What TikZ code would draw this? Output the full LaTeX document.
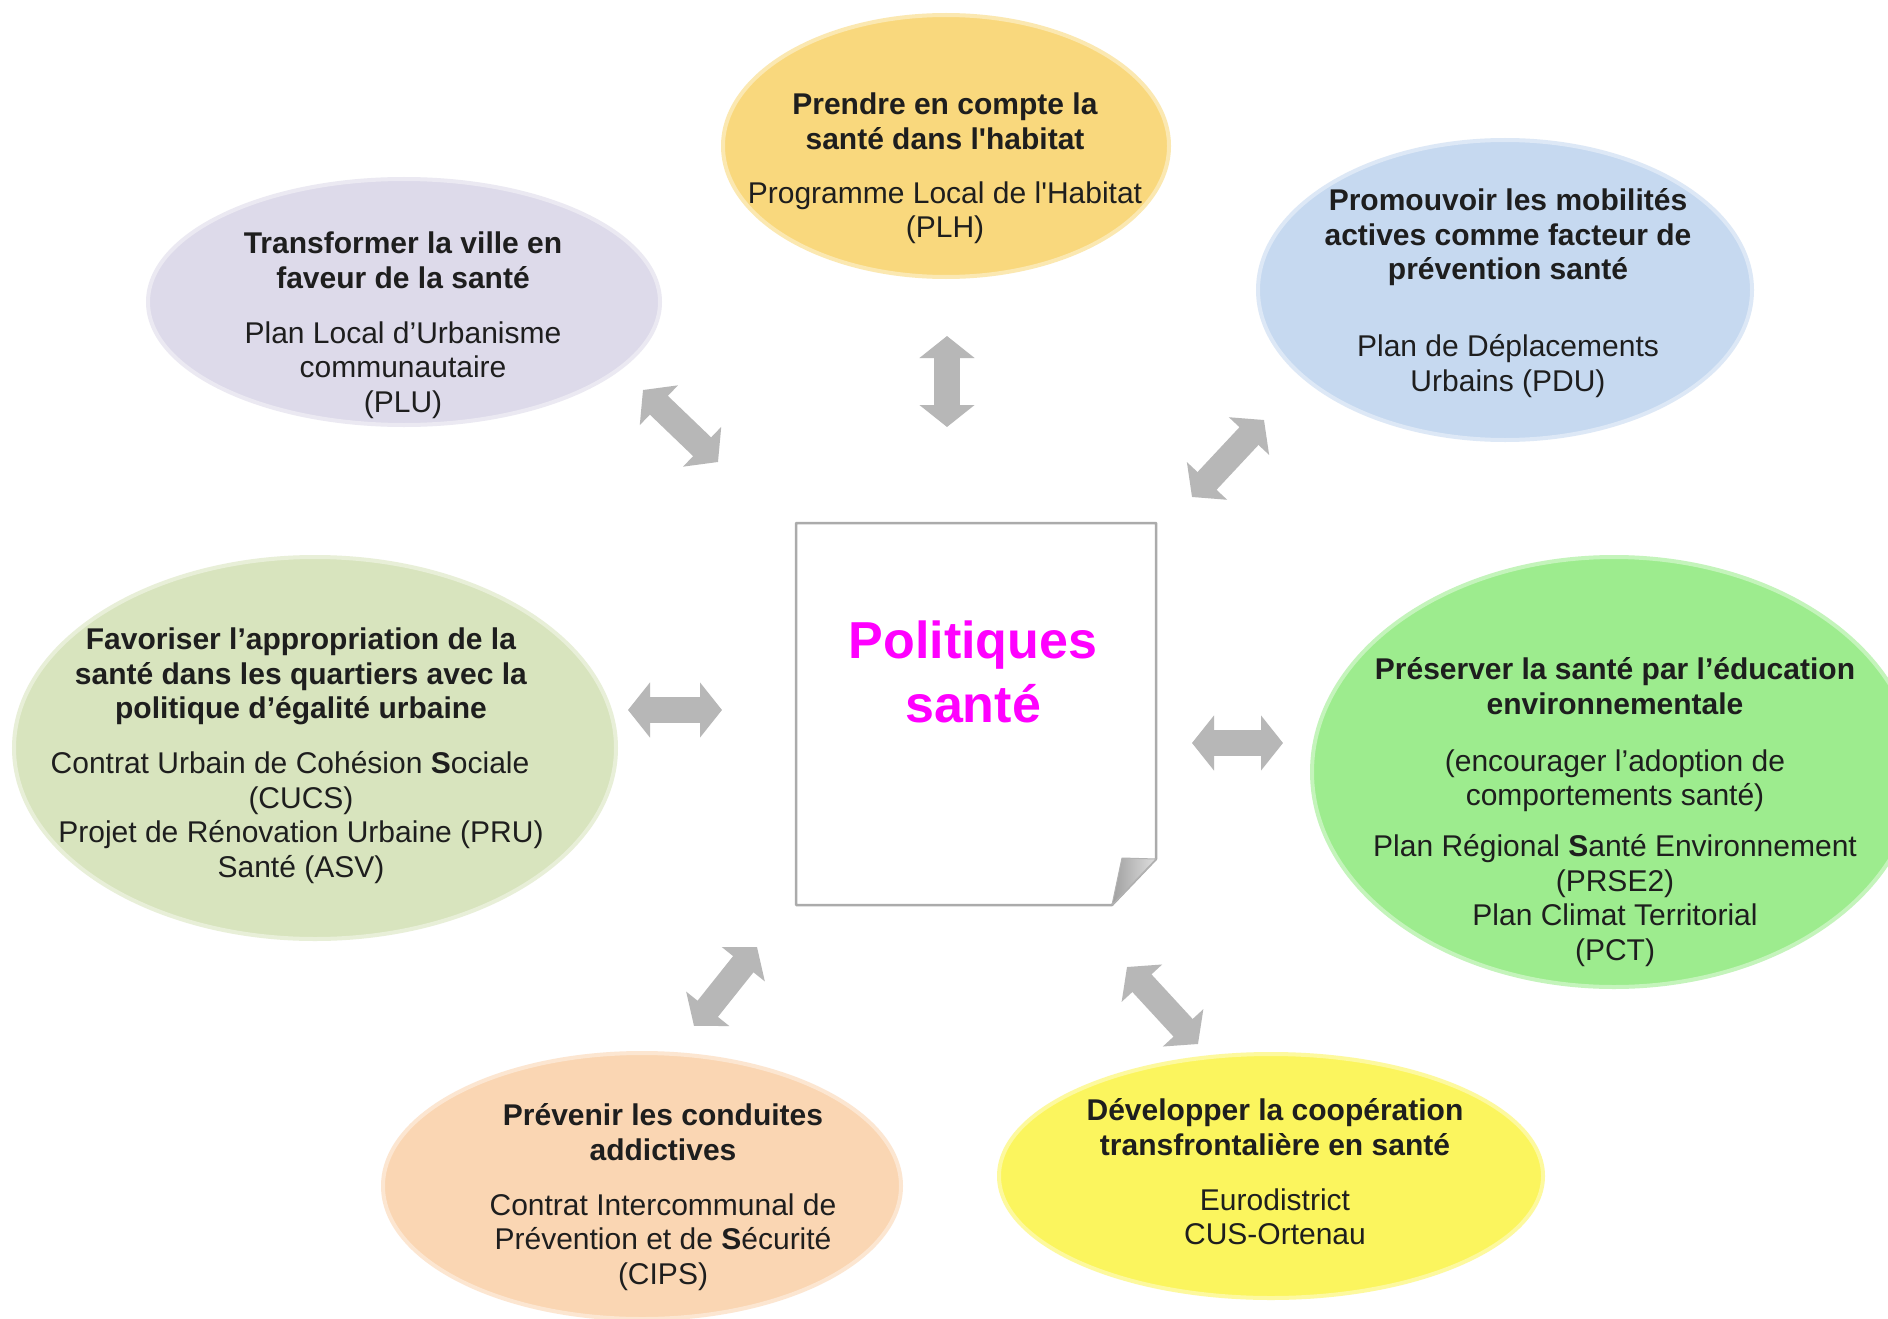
\documentclass[tikz,border=0pt]{standalone}
\usepackage{fontspec}
\setmainfont{Liberation Sans}
\usetikzlibrary{shapes.geometric,arrows.meta}
\definecolor{cGold}{HTML}{F9D87D}
\definecolor{cLav}{HTML}{DDDAEA}
\definecolor{cBlue}{HTML}{C6D9F0}
\definecolor{cOlive}{HTML}{D8E4BE}
\definecolor{cGreen}{HTML}{9DEC8E}
\definecolor{cPeach}{HTML}{FAD6B3}
\definecolor{cYel}{HTML}{FBF55E}
\definecolor{cTxt}{HTML}{1E1E1E}
\definecolor{cMag}{HTML}{FF00FF}
\definecolor{cArr}{HTML}{B7B7B7}
\definecolor{cPage}{HTML}{ABABAB}
\newcommand\mystrut{\rule[-8.6pt]{0pt}{38.6pt}}
\newcommand\mybigstrut{\rule[-12.8pt]{0pt}{62.8pt}}
\newcommand\tightlines{\lineskiplimit=-100pt\relax}
\newcommand\txtfont{\fontsize{30}{34.5}\selectfont\tightlines}
\newcommand\bigfont{\fontsize{52}{64}\selectfont\bfseries\tightlines}
\begin{document}
\begin{tikzpicture}[x=1pt,y=-1pt,
  blob/.style={ellipse, inner sep=0pt, fill=#1, draw=#1!60!white, line width=4pt},
  txt/.style={align=center, inner sep=0pt, text=cTxt, font=\txtfont},
  arr/.style={draw=cArr, line width=26pt,
    arrows={Triangle[width=54pt,length=22pt]-Triangle[width=54pt,length=22pt]}}]
\useasboundingbox (0,0) rectangle (1888,1319);
\clip (0,0) rectangle (1888,1319);
\fill[white] (0,0) rectangle (1888,1319);

% ellipses
\node[blob=cLav, minimum width=512pt, minimum height=246pt] (eTL) at (404,302) {};
\node[blob=cGold, minimum width=446pt, minimum height=262pt] (eT) at (946,146) {};
\node[blob=cBlue, minimum width=494pt, minimum height=300pt] (eTR) at (1505,290) {};
\node[blob=cOlive, minimum width=602pt, minimum height=382pt] (eL) at (315,748) {};
\node[blob=cGreen, minimum width=604pt, minimum height=430pt] (eR) at (1614,772) {};
\node[blob=cPeach, minimum width=518pt, minimum height=266pt] (eBL) at (642,1186) {};
\node[blob=cYel, minimum width=544pt, minimum height=244pt] (eBR) at (1271,1176) {};

% arrow end points
\coordinate (a1s) at (643,390);  \coordinate (a1e) at (718,462);
\coordinate (a2s) at (947,336);  \coordinate (a2e) at (947,427);
\coordinate (a3s) at (1264,420); \coordinate (a3e) at (1192,497);
\coordinate (a4s) at (628,710);  \coordinate (a4e) at (722,710);
\coordinate (a5s) at (1192,743); \coordinate (a5e) at (1283,743);
\coordinate (a6s) at (757,947);  \coordinate (a6e) at (694,1026);
\coordinate (a7s) at (1127,967); \coordinate (a7e) at (1198,1044);
\foreach \i in {1,...,7} {\draw[arr] (a\i s) -- (a\i e);}

% central page with curled corner
\path[draw=cPage, line width=2.5pt, fill=white, line join=round]
  (796,523) -- (1156,523) -- (1156,859) -- (1112,905) -- (796,905) -- cycle;
\shade[left color=gray!75, right color=gray!25, draw=gray!60, line width=1pt, line join=round]
  (1122,858) -- (1156,859) -- (1112,905) -- cycle;
\node[align=center, inner sep=0pt, text=cMag, font=\bigfont] (tC) at (973,672)
  {\mybigstrut Politiques\\ santé\mybigstrut};

% texts
\node[txt] (tT) at (945,165.5)
  {\mystrut\textbf{Prendre en compte la}\\ \textbf{santé dans l\textquotesingle habitat}\\[19.5pt]
   Programme Local de l\textquotesingle Habitat\\ (PLH)\mystrut};
\node[txt] (tTL) at (403,322.5)
  {\mystrut\textbf{Transformer la ville en}\\ \textbf{faveur de la santé}\\[20.5pt]
   Plan Local d’Urbanisme\\ communautaire\\ (PLU)\mystrut};
\node[txt] (tTR) at (1508,290.5)
  {\mystrut\textbf{Promouvoir les mobilités}\\ \textbf{actives comme facteur de}\\
   \textbf{prévention santé}\\[42.5pt]
   Plan de Déplacements\\ Urbains (PDU)\mystrut};
\node[txt] (tL) at (301,753)
  {\mystrut\textbf{Favoriser l’appropriation de la}\\ \textbf{santé dans les quartiers avec la}\\
   \textbf{politique d’égalité urbaine}\\[20.5pt]
   Contrat Urbain de Cohésion \textbf{S}ociale\rule{22pt}{0pt}\\ (CUCS)\\
   Projet de Rénovation Urbaine (PRU)\\ Santé (ASV)\mystrut};
\node[txt] (tR) at (1615,809.5)
  {\mystrut\textbf{Préserver la santé par l’éducation}\\ \textbf{environnementale}\\[22.5pt]
   (encourager l’adoption de\\ comportements santé)\\[16.5pt]
   Plan Régional \textbf{S}anté Environnement\\ (PRSE2)\\
   Plan Climat Territorial\\ (PCT)\mystrut};
\node[txt] (tBL) at (663,1194.5)
  {\mystrut\textbf{Prévenir les conduites}\\ \textbf{addictives}\\[20.5pt]
   Contrat Intercommunal de\\ Prévention et de \textbf{S}écurité\\ (CIPS)\mystrut};
\node[txt] (tBR) at (1275,1172)
  {\mystrut\textbf{Développer la coopération}\\ \textbf{transfrontalière en santé}\\[20.5pt]
   Eurodistrict\\ CUS-Ortenau\mystrut};
\end{tikzpicture}
\end{document}
